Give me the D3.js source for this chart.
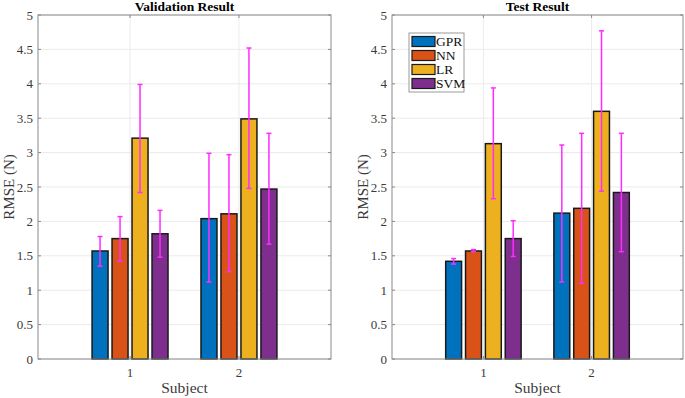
<!DOCTYPE html>
<html>
<head>
<meta charset="utf-8">
<script src="https://cdn.jsdelivr.net/npm/d3@7"></script>
<style>
  body { margin: 0; background: #fff; }
</style>
</head>
<body>
<svg id="chart" width="685" height="398"></svg>
<script>
const subjects = [1, 2];
const methods = ["GPR", "NN", "LR", "SVM"];
const colors = ["#0072BD", "#D95319", "#EDB120", "#7E2F8E"];
const yTicks = [0, 0.5, 1, 1.5, 2, 2.5, 3, 3.5, 4, 4.5, 5];

// validation: mean and error range per subject, per method
const valMean = [[1.57, 1.75, 3.21, 1.82], [2.04, 2.11, 3.49, 2.47]];
const valLow  = [[1.35, 1.42, 2.42, 1.48], [1.12, 1.27, 2.48, 1.67]];
const valHigh = [[1.78, 2.07, 3.99, 2.16], [2.99, 2.97, 4.52, 3.28]];

// test
const testMean = [[1.42, 1.57, 3.13, 1.75], [2.12, 2.19, 3.60, 2.42]];
const testLow  = [[1.38, 1.56, 2.33, 1.49], [1.12, 1.10, 2.44, 1.56]];
const testHigh = [[1.46, 1.59, 3.94, 2.01], [3.11, 3.28, 4.77, 3.28]];

const serif = "'Liberation Serif', 'DejaVu Serif', serif";

const svg = d3.select("#chart").attr("font-family", serif);

function drawPanel(x0, x1, title, mean, low, high, legend) {
    const y0 = 15, y1 = 359;
    const x = d3.scaleLinear().domain([0.155, 2.845]).range([x0, x1]);
    const y = d3.scaleLinear().domain([0, 5]).range([y1, y0]);
    const unit = x(1) - x(0);
    const inner = d3.scaleBand().domain(methods)
        .range([-0.367 * unit, 0.367 * unit])
        .paddingInner(0.2).paddingOuter(0.1);

    const g = svg.append("g");

    // grid
    g.selectAll(".gy").data(yTicks).enter().append("line")
        .attr("x1", x0).attr("x2", x1)
        .attr("y1", d => y(d)).attr("y2", d => y(d))
        .attr("stroke", "#ebebeb").attr("stroke-width", 1);
    g.selectAll(".gx").data(subjects).enter().append("line")
        .attr("x1", d => x(d)).attr("x2", d => x(d))
        .attr("y1", y0).attr("y2", y1)
        .attr("stroke", "#ebebeb").attr("stroke-width", 1);

    // bars
    subjects.forEach((s, i) => {
        g.selectAll(".bar" + i).data(methods).enter().append("rect")
            .attr("x", m => x(s) + inner(m))
            .attr("width", inner.bandwidth())
            .attr("y", (m, j) => y(mean[i][j]))
            .attr("height", (m, j) => y(0) - y(mean[i][j]))
            .attr("fill", (m, j) => colors[j])
            .attr("stroke", "#1a1a1a")
            .attr("stroke-width", 1.5);
    });

    // error bars
    subjects.forEach((s, i) => {
        methods.forEach((m, j) => {
            const cx = x(s) + inner(m) + inner.bandwidth() / 2;
            const e = g.append("g").attr("stroke", "#ff2bff").attr("stroke-width", 1.5);
            e.append("line").attr("x1", cx).attr("x2", cx)
                .attr("y1", y(low[i][j])).attr("y2", y(high[i][j]));
            [low[i][j], high[i][j]].forEach(v => {
                e.append("line").attr("x1", cx - 2.5).attr("x2", cx + 2.5)
                    .attr("y1", y(v)).attr("y2", y(v));
            });
        });
    });

    // box
    g.append("rect")
        .attr("x", x0).attr("y", y0)
        .attr("width", x1 - x0).attr("height", y1 - y0)
        .attr("fill", "none").attr("stroke", "#8a8a8a").attr("stroke-width", 1);

    // ticks (inward)
    g.selectAll(".tl").data(yTicks).enter().append("line")
        .attr("x1", x0).attr("x2", x0 + 3)
        .attr("y1", d => y(d)).attr("y2", d => y(d))
        .attr("stroke", "#8a8a8a");
    g.selectAll(".tr").data(yTicks).enter().append("line")
        .attr("x1", x1).attr("x2", x1 - 3)
        .attr("y1", d => y(d)).attr("y2", d => y(d))
        .attr("stroke", "#8a8a8a");
    g.selectAll(".tb").data(subjects).enter().append("line")
        .attr("x1", d => x(d)).attr("x2", d => x(d))
        .attr("y1", y1).attr("y2", y1 - 3)
        .attr("stroke", "#8a8a8a");
    g.selectAll(".tt").data(subjects).enter().append("line")
        .attr("x1", d => x(d)).attr("x2", d => x(d))
        .attr("y1", y0).attr("y2", y0 + 3)
        .attr("stroke", "#8a8a8a");

    // tick labels
    g.selectAll(".yl").data(yTicks).enter().append("text")
        .attr("x", x0 - 5).attr("y", d => y(d) + 4.5)
        .attr("text-anchor", "end")
        .attr("font-family", serif)
        .attr("font-size", 13).attr("fill", "#3a3a3a")
        .text(d => d);
    g.selectAll(".xl").data(subjects).enter().append("text")
        .attr("x", d => x(d)).attr("y", y1 + 18)
        .attr("text-anchor", "middle")
        .attr("font-family", serif)
        .attr("font-size", 13).attr("fill", "#3a3a3a")
        .text(d => d);

    // axis labels
    g.append("text")
        .attr("x", (x0 + x1) / 2).attr("y", 393)
        .attr("text-anchor", "middle")
        .attr("font-family", serif)
        .attr("font-size", 15.5).attr("fill", "#3a3a3a")
        .text("Subject");
    g.append("text")
        .attr("transform", `translate(${x0 - 24},${(y0 + y1) / 2}) rotate(-90)`)
        .attr("text-anchor", "middle")
        .attr("font-family", serif)
        .attr("font-size", 15).attr("fill", "#3a3a3a")
        .text("RMSE (N)");

    // title
    g.append("text")
        .attr("x", (x0 + x1) / 2).attr("y", 11)
        .attr("text-anchor", "middle")
        .attr("font-family", serif)
        .attr("font-size", 13.5).attr("font-weight", "bold").attr("fill", "#000")
        .text(title);

    if (legend) {
        const lx = 409, ly = 33;
        const lg = g.append("g");
        lg.append("rect")
            .attr("x", lx).attr("y", ly).attr("width", 55).attr("height", 59)
            .attr("fill", "#fff").attr("stroke", "#9a9a9a").attr("stroke-width", 1);
        methods.forEach((m, j) => {
            const cy = ly + 8.5 + j * 14;
            lg.append("rect")
                .attr("x", lx + 3).attr("y", cy - 5)
                .attr("width", 23).attr("height", 10)
                .attr("fill", colors[j]).attr("stroke", "#1a1a1a").attr("stroke-width", 1.2);
            lg.append("text")
                .attr("x", lx + 27).attr("y", cy + 4.5)
                .attr("font-family", serif)
                .attr("font-size", 13.5).attr("fill", "#111")
                .text(m);
        });
    }
}

drawPanel(38, 331, "Validation Result", valMean, valLow, valHigh, false);
drawPanel(392, 683, "Test Result", testMean, testLow, testHigh, true);
</script>
</body>
</html>
